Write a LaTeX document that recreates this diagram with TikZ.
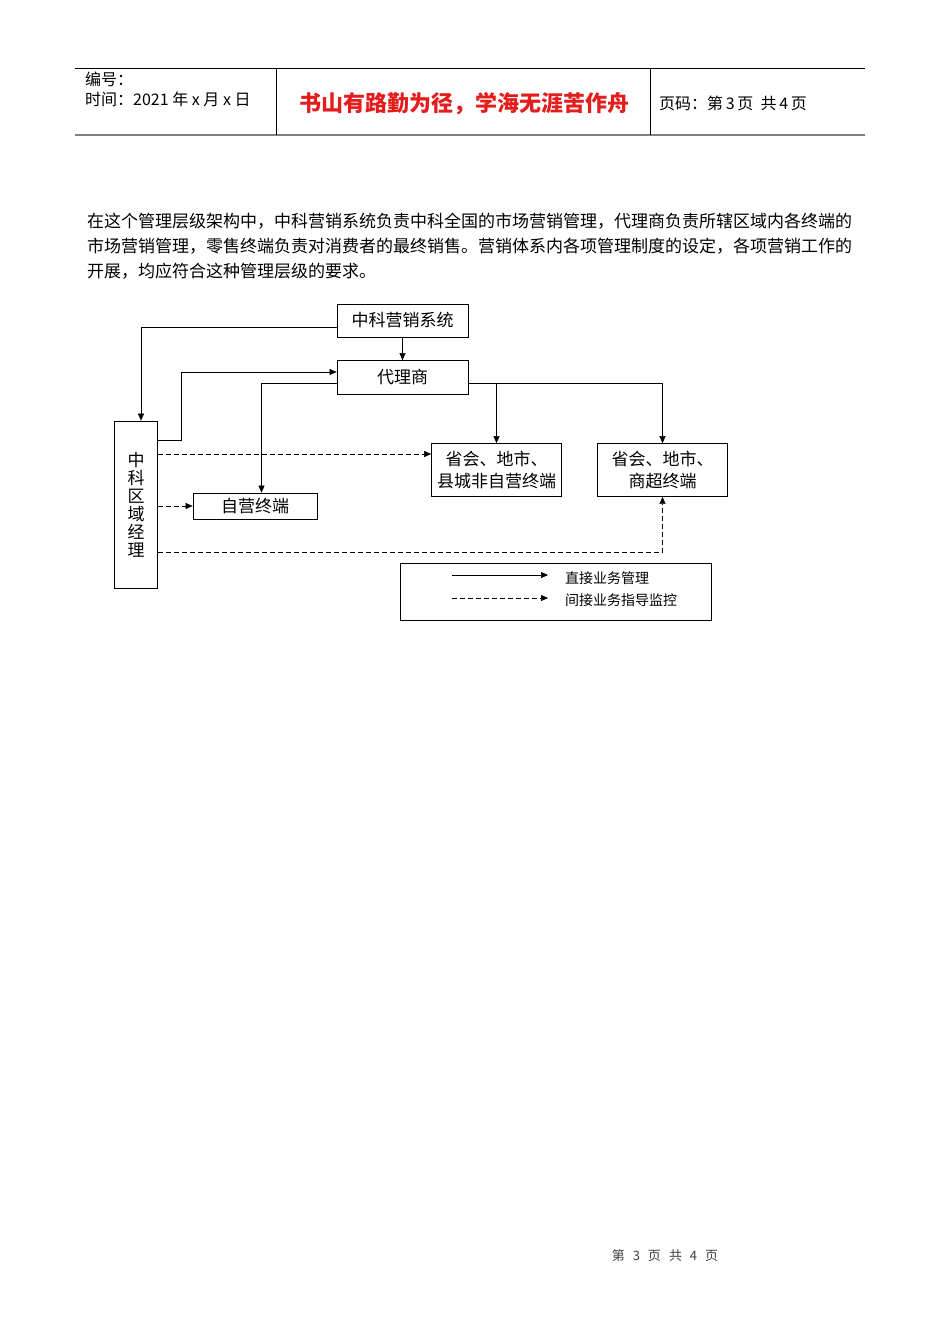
\documentclass[tikz,border=0pt]{standalone}
\usepackage{fontspec}
\setmainfont{Noto Sans CJK SC}
\usetikzlibrary{arrows.meta}
\definecolor{titlered}{RGB}{228,28,28}

\begin{document}
\begin{tikzpicture}[x=1pt,y=-1pt,>={Triangle[length=7pt,width=6pt]},
  every node/.style={align=center,inner sep=0pt},
  box/.style={draw,line width=0.8pt,font=\fontsize{17}{22}\selectfont},
  dsh/.style={dash pattern=on 5pt off 3pt},
  txt/.style={anchor=west,align=left}]
\useasboundingbox[fill=white] (0,0) rectangle (950,1344);
% header
\draw[line width=0.8pt] (75,68) -- (865,68);
\draw[line width=1.6pt,gray] (75,135) -- (865,135);
\draw[line width=0.8pt] (276,68) -- (276,135) (650,68) -- (650,135);
\node[txt,font=\fontsize{16}{20}\selectfont] (num) at (85,89) {编号：\\时间：2021 年 x 月 x 日};
\node[font=\fontsize{22}{24}\selectfont\bfseries,text=titlered] (ttl) at (464,104) {书山有路勤为径，学海无涯苦作舟};
\node[txt,font=\fontsize{16}{18}\selectfont] (pgno) at (659,103) {页码：第\,3\,页\ \ 共\,4\,页};
% text
\node[txt,font=\fontsize{17}{20}\selectfont] (p1) at (87,221) {在这个管理层级架构中，中科营销系统负责中科全国的市场营销管理，代理商负责所辖区域内各终端的};
\node[txt,font=\fontsize{17}{20}\selectfont] (p2) at (87,246) {市场营销管理，零售终端负责对消费者的最终销售。营销体系内各项管理制度的设定，各项营销工作的};
\node[txt,font=\fontsize{17}{20}\selectfont] (p3) at (87,271) {开展，均应符合这种管理层级的要求。};
% boxes
\node[box,minimum width=131pt,minimum height=33pt] (sys) at (402.5,320.5) {中科营销系统};
\node[box,minimum width=131pt,minimum height=34pt] (agt) at (402.5,377.5) {代理商};
\node[box,minimum width=43pt,minimum height=167pt,font=\fontsize{17}{18}\selectfont] (mgr) at (136,504.5) {中\\科\\区\\域\\经\\理};
\node[box,minimum width=124pt,minimum height=26pt] (own) at (255,506) {自营终端};
\node[box,minimum width=130pt,minimum height=53pt] (fr) at (496.5,470) {省会、地市、\\县城非自营终端};
\node[box,minimum width=130pt,minimum height=53pt] (mk) at (662.5,470) {省会、地市、\\商超终端};
% direct
\draw[->] ([yshift=-6.5pt]sys.west) -| ([xshift=5pt]mgr.north);
\draw[->] (sys) -- (agt);
\draw[->] ([yshift=64.5pt]mgr.east) -- ++(23,0) |- ([yshift=5.5pt]agt.west);
\draw[->] ([yshift=-6pt]agt.west) -| ([xshift=6.5pt]own.north);
\draw[->] ([yshift=-6pt]agt.east) -| (fr.north);
\draw[->] ([yshift=-6pt]agt.east) -| (mk.north);
% indirect
\coordinate (d1) at ([yshift=16pt]fr.west);
\draw[dsh,->] (d1 -| mgr.east) -- (d1);
\draw[dsh,->] (mgr.east |- own.west) -- (own.west);
\draw[dsh,->] ([yshift=-48pt]mgr.east) -| (mk.south);
% legend
\node[draw,line width=0.8pt,minimum width=311pt,minimum height=57pt] (lg) at (556,591.5) {};
\coordinate (l1) at (452,575);
\coordinate (l2) at (548,575);
\coordinate (l3) at (452,598);
\coordinate (l4) at (548,598);
\draw[->,line width=0.6pt] (l1) -- (l2);
\draw[->,dsh,line width=0.6pt] (l3) -- (l4);
\node[txt,font=\fontsize{14}{16}\selectfont] (t1) at (565,578) {直接业务管理};
\node[txt,font=\fontsize{14}{16}\selectfont] (t2) at (565,600) {间接业务指导监控};
% footer
\node[font=\fontsize{13}{15}\selectfont,text=darkgray] (pg) at (665,1256) {第\hspace{8pt}3\hspace{8pt}页\hspace{8pt}共\hspace{8pt}4\hspace{8pt}页};
\end{tikzpicture}
\end{document}
